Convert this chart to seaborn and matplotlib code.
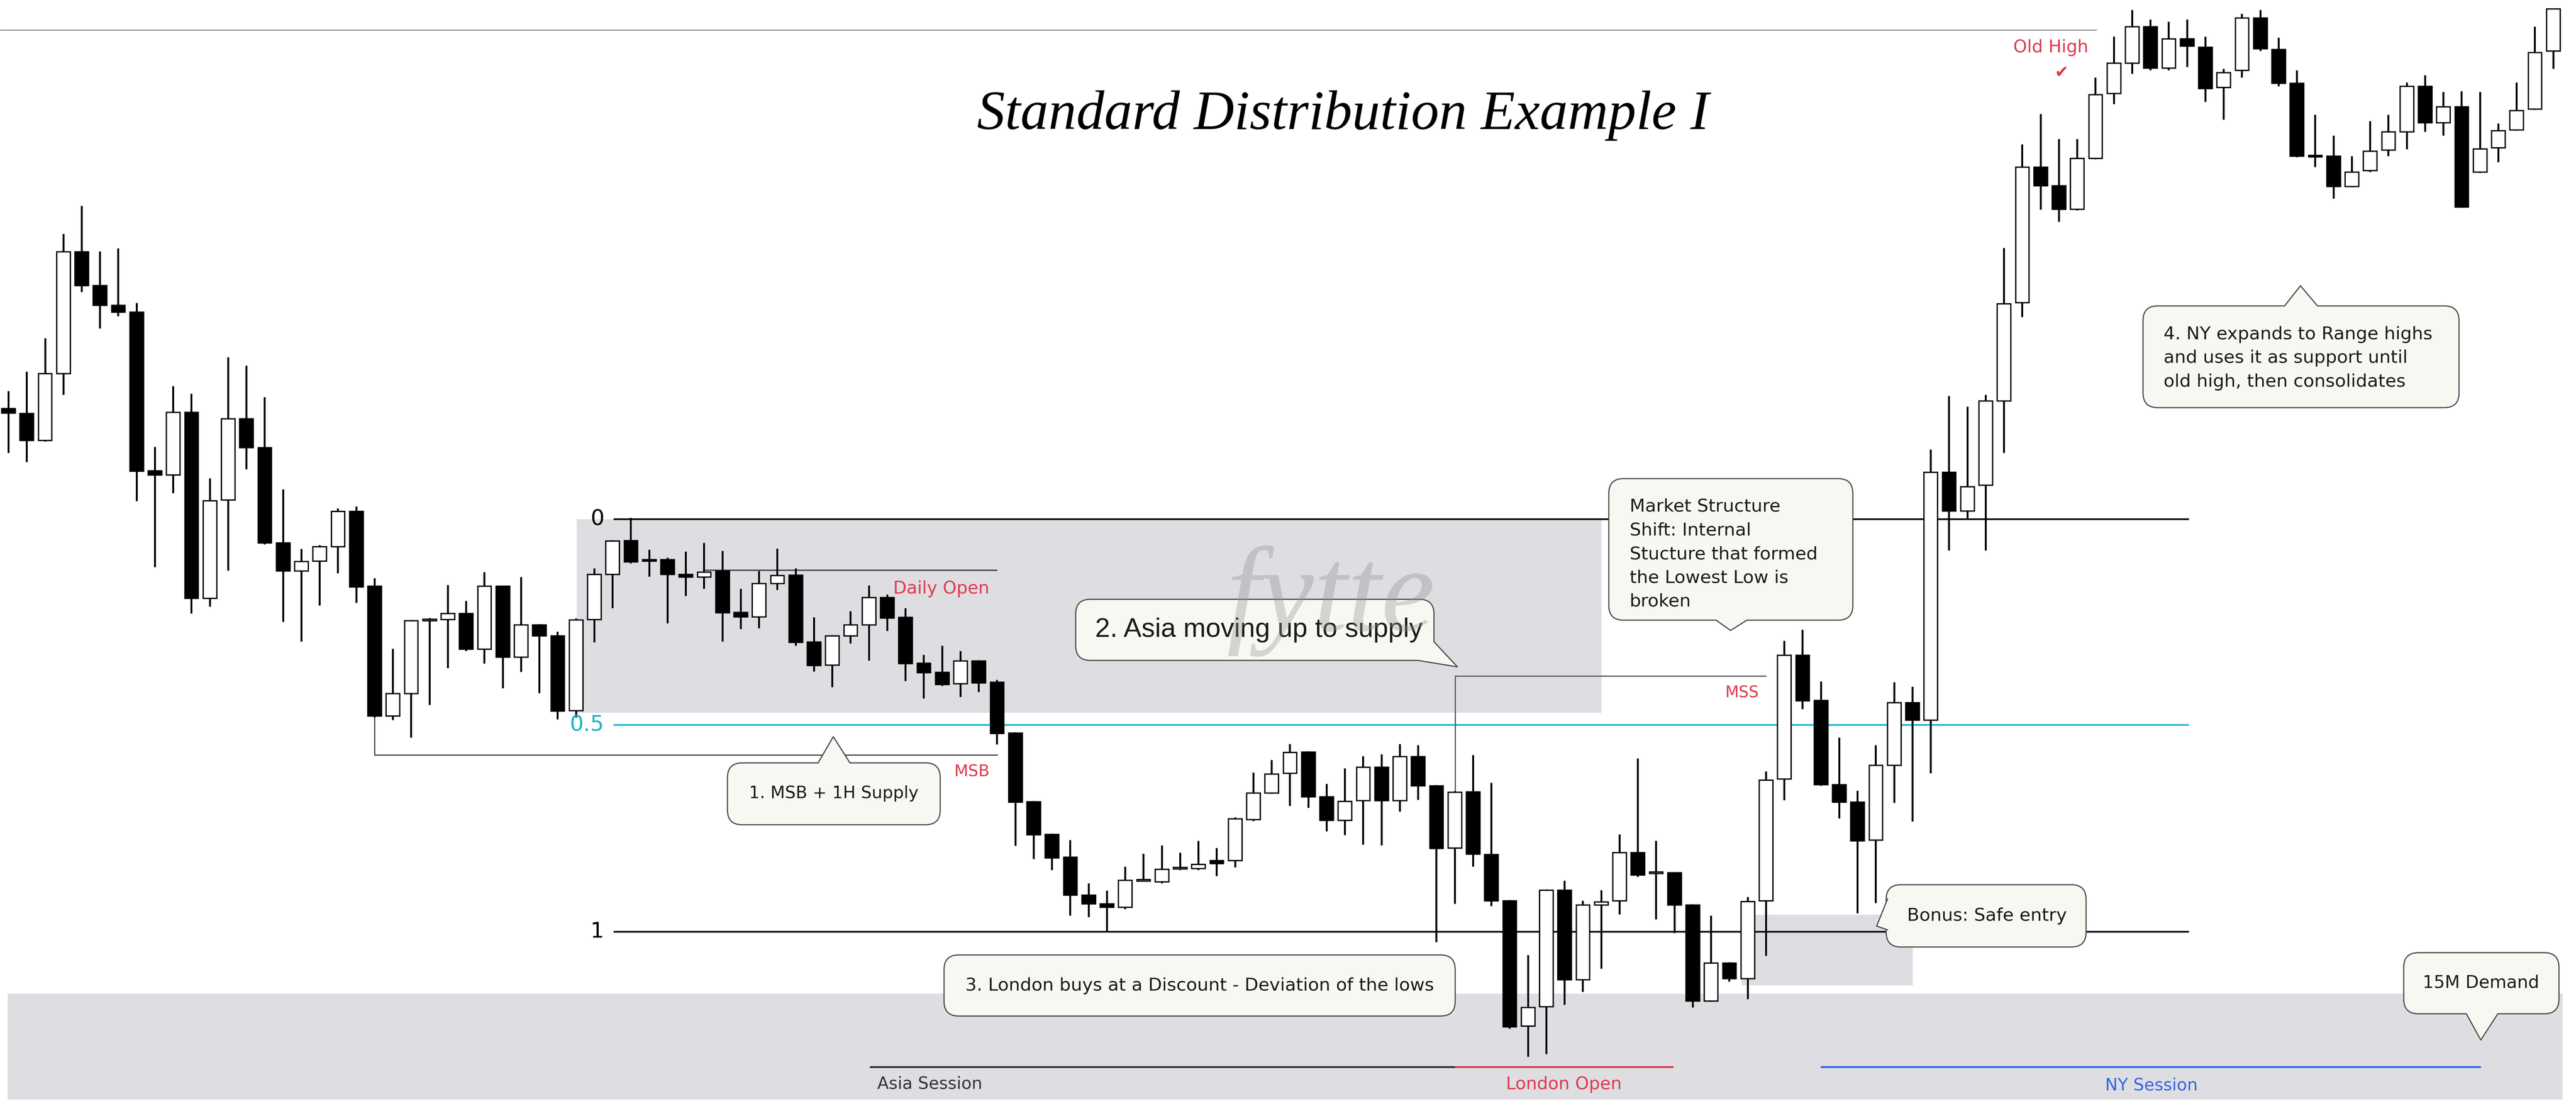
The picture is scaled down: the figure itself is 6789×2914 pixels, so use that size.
import numpy as np
import pandas as pd
import matplotlib
matplotlib.use("Agg")
import matplotlib.pyplot as plt
import seaborn as sns
from matplotlib.patches import FancyBboxPatch, Polygon, Rectangle

# OHLC (price in points, one candle per slot)
opens = [1838, 1825, 1754, 1930, 2251, 2162, 2110, 2092, 1674, 1663,
         1828, 1338, 1597, 1811, 1735, 1484, 1410, 1436, 1474, 1567,
         1370, 1028, 1087, 1279, 1282, 1298, 1204, 1370, 1183, 1268,
         1239, 1042, 1282, 1401, 1490, 1438, 1440, 1401, 1394, 1410,
         1301, 1289, 1377, 1399, 1223, 1162, 1239, 1268, 1340, 1288,
         1167, 1143, 1113, 1173, 1117, 983, 802, 716, 656, 556,
         533, 524, 593, 591, 625, 626, 647, 647, 755, 825,
         877, 933, 815, 753, 805, 893, 805, 921, 844, 680,
         828, 663, 541, 211, 262, 569, 333, 530, 541, 668,
         613, 615, 530, 277, 377, 336, 541, 862, 1188, 1069,
         847, 801, 701, 898, 1063, 1017, 1670, 1568, 1636, 1858,
         2117, 2474, 2425, 2363, 2497, 2668, 2748, 2844, 2735, 2812,
         2790, 2684, 2729, 2867, 2784, 2695, 2503, 2503, 2423, 2465,
         2519, 2567, 2687, 2591, 2633, 2461, 2525, 2572, 2627, 2780]
highs = [1884, 1935, 2023, 2298, 2372, 2252, 2260, 2116, 1737, 1897,
         1877, 1654, 1973, 1951, 1868, 1625, 1468, 1478, 1575, 1580,
         1391, 1205, 1281, 1286, 1373, 1331, 1407, 1371, 1394, 1270,
         1250, 1285, 1417, 1491, 1550, 1466, 1445, 1461, 1484, 1463,
         1363, 1410, 1469, 1417, 1288, 1241, 1304, 1372, 1348, 1312,
         1189, 1213, 1199, 1175, 1123, 985, 804, 718, 701, 587,
         568, 631, 665, 687, 668, 699, 680, 761, 879, 912,
         954, 935, 849, 890, 922, 927, 954, 951, 846, 830,
         925, 852, 543, 398, 571, 594, 541, 569, 716, 916,
         699, 617, 532, 502, 379, 551, 882, 1226, 1255, 1119,
         971, 831, 951, 1117, 1105, 1730, 1871, 1843, 1874, 2261,
         2534, 2614, 2548, 2548, 2710, 2818, 2888, 2863, 2857, 2863,
         2818, 2733, 2878, 2888, 2815, 2729, 2612, 2557, 2503, 2595,
         2612, 2697, 2716, 2672, 2674, 2672, 2589, 2697, 2844, 2891]
lows = [1721, 1697, 1751, 1874, 2145, 2049, 2081, 1594, 1420, 1615,
        1298, 1316, 1411, 1678, 1480, 1276, 1224, 1319, 1404, 1326,
        1024, 1017, 971, 1057, 1154, 1199, 1166, 1101, 1144, 1088,
        1019, 1024, 1222, 1312, 1430, 1395, 1272, 1344, 1363, 1224,
        1257, 1259, 1360, 1213, 1145, 1104, 1219, 1174, 1252, 1120,
        1074, 1107, 1078, 1091, 953, 686, 651, 622, 502, 498,
        459, 519, 592, 587, 622, 622, 606, 629, 751, 823,
        791, 786, 724, 714, 689, 687, 776, 807, 432, 533,
        631, 527, 204, 130, 137, 267, 301, 362, 505, 604,
        492, 456, 260, 275, 328, 282, 396, 806, 1046, 844,
        758, 508, 535, 799, 750, 877, 1464, 1549, 1464, 1721,
        2079, 2362, 2330, 2360, 2495, 2640, 2720, 2729, 2729, 2738,
        2646, 2599, 2710, 2780, 2687, 2500, 2474, 2391, 2421, 2461,
        2503, 2521, 2567, 2557, 2367, 2459, 2487, 2570, 2625, 2733]
closes = [1826, 1754, 1930, 2251, 2162, 2110, 2092, 1673, 1663, 1828,
          1338, 1595, 1811, 1735, 1484, 1410, 1435, 1474, 1567, 1368,
          1028, 1087, 1279, 1281, 1298, 1204, 1370, 1183, 1268, 1239,
          1041, 1281, 1401, 1489, 1434, 1436, 1401, 1394, 1407, 1300,
          1289, 1377, 1398, 1222, 1161, 1239, 1268, 1340, 1286, 1166,
          1142, 1111, 1173, 1115, 982, 801, 715, 654, 556, 533,
          524, 595, 595, 624, 627, 637, 639, 757, 825, 875,
          932, 815, 753, 803, 893, 805, 921, 844, 679, 827,
          664, 541, 209, 260, 569, 333, 530, 538, 668, 609,
          615, 530, 277, 377, 336, 539, 859, 1188, 1068, 847,
          801, 699, 898, 1063, 1017, 1670, 1568, 1632, 1858, 2114,
          2474, 2425, 2363, 2497, 2665, 2748, 2844, 2735, 2812, 2793,
          2681, 2723, 2867, 2786, 2695, 2503, 2501, 2423, 2461, 2516,
          2567, 2687, 2591, 2633, 2369, 2522, 2570, 2623, 2776, 2891]

# fib levels of the range
fib_labels = ["0", "0.5", "1"]
fib_prices = [1546, 1004, 459]

RED = "#e0394f"
CYAN = "#1fb2cc"
BLUE = "#3565e3"
ZONE = "#dedee2"
BOX_FC = "#f8f8f3"
BOX_EC = "#4a4a4a"

sns.set_theme(style="white")
plt.rcParams["font.family"] = ["DejaVu Sans"]

df = pd.DataFrame({"open": opens, "high": highs, "low": lows, "close": closes})
df["idx"] = np.arange(len(df))
df["up"] = df["close"] >= df["open"]

fig = plt.figure(figsize=(67.89, 29.14), dpi=100)
ax = fig.add_axes([0, 0, 1, 1])
ax.set_xlim(-0.456, 140.25)
ax.set_ylim(0, 2914)
ax.set_axis_off()

# shaded zones
ax.add_patch(Rectangle((-0.04, 17), 139.56, 279, fc=ZONE, ec="none", zorder=0))
ax.add_patch(Rectangle((31.05, 1036), 55.98, 510, fc=ZONE, ec="none", zorder=0))
ax.add_patch(Rectangle((94.67, 318), 9.35, 186, fc=ZONE, ec="none", zorder=0))

# old high line
ax.hlines(2835, -0.46, 114.07, color="#8a8a8a", lw=2, zorder=1)

# fib levels
for lab, p in zip(fib_labels, fib_prices):
    col = CYAN if lab == "0.5" else "black"
    ax.hlines(p, 33.06, 119.1, color=col, lw=3.2, zorder=1)
    ax.text(32.54, p, lab, ha="right", va="center", color=col, fontsize=41, zorder=6)

# structure lines
ax.hlines(1412, 38.05, 54.01, color="#444444", lw=2.5, zorder=2)
ax.plot([20.0, 20.0, 54.01], [1028, 925, 925], color="#444444", lw=2.2, zorder=2)
ax.plot([96.0, 79.03, 79.03], [1133, 1133, 830], color="#555555", lw=2.2, zorder=2)

# candles
ax.vlines(df["idx"], df["low"], df["high"], color="black", lw=3.6, zorder=3)
body = (df["close"] - df["open"]).abs().clip(lower=4)
ax.bar(df["idx"], body, bottom=df[["open", "close"]].min(axis=1), width=0.74,
       color=np.where(df["up"], "white", "black"), edgecolor="black",
       linewidth=2.5, zorder=4)

# red labels
ax.text(53.58, 1363, "Daily Open", ha="right", va="center", color=RED, fontsize=33, zorder=6)
ax.text(53.6, 880, "MSB", ha="right", va="center", color=RED, fontsize=31, zorder=6)
ax.text(95.63, 1088, "MSS", ha="right", va="center", color=RED, fontsize=30, zorder=6)
ax.text(111.56, 2788, "Old High", ha="center", va="center", color=RED, fontsize=33, zorder=6)
ax.text(112.15, 2723, "\u2714", ha="center", va="center", color=RED, fontsize=32, zorder=6)

# title
ax.text(72.91, 2574, "Standard Distribution Example I", ha="center", va="baseline",
        family="Liberation Serif", style="italic", fontsize=106, color="black", zorder=6)


def callout(x0, x1, y0, y1, ptr=None):
    box = FancyBboxPatch((x0, y0), x1 - x0, y1 - y0,
                         boxstyle="round,pad=0,rounding_size=0.8",
                         mutation_aspect=48.25, fc=BOX_FC, ec=BOX_EC, lw=2.2, zorder=5)
    ax.add_patch(box)
    if ptr is not None:
        (bx1, by1), (tx, ty), (bx2, by2) = ptr
        ax.add_patch(Polygon(ptr, closed=True, fc=BOX_FC, ec="none", zorder=5.1))
        ax.plot([bx1, bx2], [by1, by2], color=BOX_FC, lw=4, zorder=5.1,
                solid_capstyle="butt")
        ax.plot([bx1, tx, bx2], [by1, ty, by2], color=BOX_EC, lw=2.2, zorder=5.2)


callout(39.28, 50.90, 741, 904, [(44.23, 904), (45.06, 973), (45.97, 904)])
ax.text(45.08, 823, "1. MSB + 1H Supply", ha="center", va="center", fontsize=32,
        color="#1a1a1a", zorder=6)

callout(58.30, 77.87, 1174, 1335, [(77.87, 1223), (79.15, 1157), (77.0, 1174)])
ax.text(68.31, 1254, "2. Asia moving up to supply", ha="center", va="center",
        family="Liberation Sans", fontsize=51, color="#1a1a1a", zorder=6)

callout(51.11, 79.03, 237, 398)
ax.text(65.07, 317, "3. London buys at a Discount - Deviation of the lows",
        ha="center", va="center", fontsize=34, color="#1a1a1a", zorder=6)

callout(87.42, 100.75, 1280, 1653, [(93.28, 1280), (94.07, 1253), (94.96, 1280)])
ax.text(88.56, 1601, "Market Structure\nShift: Internal\nStucture that formed\n"
        "the Lowest Low is\nbroken", ha="left", va="top", fontsize=34,
        linespacing=1.5, color="#1a1a1a", zorder=6)

callout(116.6, 133.86, 1840, 2108, [(124.33, 2108), (125.2, 2161), (126.13, 2108)])
ax.text(117.72, 2055, "4. NY expands to Range highs\nand uses it as support until\n"
        "old high, then consolidates", ha="left", va="top", fontsize=34,
        linespacing=1.5, color="#1a1a1a", zorder=6)

callout(102.57, 113.49, 419, 583, [(102.65, 546), (102.05, 474), (102.65, 464)])
ax.text(108.08, 501, "Bonus: Safe entry", ha="center", va="center", fontsize=34,
        color="#1a1a1a", zorder=6)

callout(130.84, 139.32, 243, 404, [(134.26, 243), (135.05, 174), (135.98, 243)])
ax.text(135.05, 324, "15M Demand", ha="center", va="center", fontsize=33,
        color="#1a1a1a", zorder=6)

# sessions
ax.hlines(103, 47.05, 79.03, color="#2f3238", lw=3.5, zorder=2)
ax.hlines(103, 79.03, 90.94, color=RED, lw=3.5, zorder=2)
ax.hlines(103, 98.98, 135.05, color=BLUE, lw=3.5, zorder=2)
ax.text(50.34, 58, "Asia Session", ha="center", va="center", color="#333333", fontsize=32, zorder=6)
ax.text(84.97, 57, "London Open", ha="center", va="center", color=RED, fontsize=33, zorder=6)
ax.text(117.06, 54, "NY Session", ha="center", va="center", color=BLUE, fontsize=32, zorder=6)

# faint signature watermark, laid semi-transparent over the supply box and
# callout 2 as in the original
ax.text(72.23, 1330, "fytte", ha="center", va="center", family="Liberation Serif",
        style="italic", fontsize=230, color="#8f8f8f", alpha=0.35, zorder=7)

fig.savefig("out.png", dpi=100, facecolor="white")
